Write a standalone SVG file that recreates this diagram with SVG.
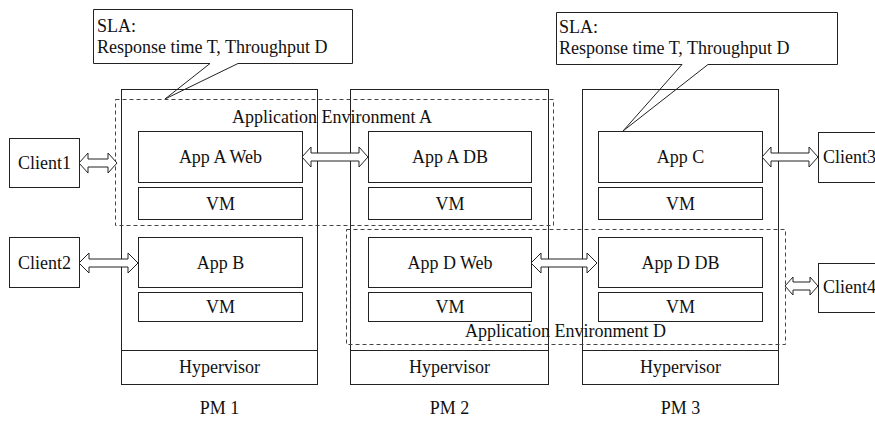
<svg xmlns="http://www.w3.org/2000/svg" width="875" height="421" viewBox="0 0 875 421">
<style>
.box{fill:#fff;stroke:#222;stroke-width:1}
.pm{fill:none;stroke:#222;stroke-width:1}
.env{fill:none;stroke:#444;stroke-width:1;stroke-dasharray:4,3}
.call{fill:#fff;stroke:#222;stroke-width:1}
.arr{fill:#fff;stroke:#222;stroke-width:1}
text{font-family:"Liberation Serif","Times New Roman",serif;font-size:18px;fill:#111}
.c{text-anchor:middle}
</style>
<rect x="0" y="0" width="875" height="421" fill="#fff"/>
<g id="sla1">
<path class="call" d="M93.5,9.5 H352.5 V63.5 H238 L165,99 L210,63.5 H93.5 Z"/>
<text x="97" y="32">SLA:</text>
<text x="97" y="53">Response time T, Throughput D</text>
</g>
<g id="sla2">
<path class="call" d="M556.5,12.5 H837.5 V64.5 H708 L623,131 L682,64.5 H556.5 Z"/>
<text x="559" y="33">SLA:</text>
<text x="559" y="54">Response time T, Throughput D</text>
</g>
<g id="pm1">
<rect class="pm" x="121.5" y="89.5" width="196" height="295"/>
<rect class="pm" x="121.5" y="350.5" width="196" height="34"/>
<text class="c" x="219.5" y="373">Hypervisor</text>
<text class="c" x="219.5" y="414">PM 1</text>
</g>
<g id="pm2">
<rect class="pm" x="350.5" y="89.5" width="198" height="295"/>
<rect class="pm" x="350.5" y="350.5" width="198" height="34"/>
<text class="c" x="449.5" y="373">Hypervisor</text>
<text class="c" x="449.5" y="414">PM 2</text>
</g>
<g id="pm3">
<rect class="pm" x="582.5" y="89.5" width="196" height="295"/>
<rect class="pm" x="582.5" y="350.5" width="196" height="34"/>
<text class="c" x="680.5" y="373">Hypervisor</text>
<text class="c" x="680.5" y="414">PM 3</text>
</g>
<g id="envA">
<rect class="env" x="115.5" y="99.5" width="438" height="126"/>
<text x="232" y="123">Application Environment A</text>
</g>
<g id="envD">
<rect class="env" x="346.5" y="229.5" width="439" height="115"/>
<text x="465" y="337">Application Environment D</text>
</g>
<g id="appAWeb"><rect class="box" x="138.5" y="131.5" width="164" height="51"/><text class="c" x="220.5" y="163">App A Web</text></g>
<g id="vmA1"><rect class="box" x="138.5" y="187.5" width="164" height="32"/><text class="c" x="220.5" y="210">VM</text></g>
<g id="appB"><rect class="box" x="138.5" y="237.5" width="164" height="50"/><text class="c" x="220.5" y="269">App B</text></g>
<g id="vmB"><rect class="box" x="138.5" y="292.5" width="164" height="29"/><text class="c" x="220.5" y="313">VM</text></g>
<g id="appADB"><rect class="box" x="368.5" y="131.5" width="163" height="51"/><text class="c" x="450" y="163">App A DB</text></g>
<g id="vmA2"><rect class="box" x="368.5" y="187.5" width="163" height="32"/><text class="c" x="450" y="210">VM</text></g>
<g id="appDWeb"><rect class="box" x="368.5" y="237.5" width="163" height="50"/><text class="c" x="450" y="269">App D Web</text></g>
<g id="vmD1"><rect class="box" x="368.5" y="292.5" width="163" height="29"/><text class="c" x="450" y="313">VM</text></g>
<g id="appC"><rect class="box" x="598.5" y="131.5" width="164" height="51"/><text class="c" x="680.5" y="163">App C</text></g>
<g id="vmC"><rect class="box" x="598.5" y="187.5" width="164" height="32"/><text class="c" x="680.5" y="210">VM</text></g>
<g id="appDDB"><rect class="box" x="598.5" y="237.5" width="164" height="50"/><text class="c" x="680.5" y="269">App D DB</text></g>
<g id="vmD2"><rect class="box" x="598.5" y="292.5" width="164" height="29"/><text class="c" x="680.5" y="313">VM</text></g>
<g id="client1"><rect class="box" x="9.5" y="138.5" width="70" height="49"/><text class="c" x="44.5" y="169">Client1</text></g>
<g id="client2"><rect class="box" x="9.5" y="237.5" width="70" height="50"/><text class="c" x="44.5" y="269">Client2</text></g>
<g id="client3"><rect class="box" x="818.5" y="132.5" width="80" height="50"/><text x="823" y="163">Client3</text></g>
<g id="client4"><rect class="box" x="818.5" y="263.5" width="80" height="49"/><text x="823" y="293">Client4</text></g>
<g id="connectors">
<path class="arr" d="M79,163 L88,153 L88,159 L108,159 L108,153 L117,163 L108,173 L108,167 L88,167 L88,173 Z"/>
<path class="arr" d="M79,263 L89,253 L89,259 L128,259 L128,253 L138,263 L128,273 L128,267 L89,267 L89,273 Z"/>
<path class="arr" d="M302,157 L311,147 L311,153 L359,153 L359,147 L368,157 L359,167 L359,161 L311,161 L311,167 Z"/>
<path class="arr" d="M531,263 L541,253 L541,259 L587,259 L587,253 L597,263 L587,273 L587,267 L541,267 L541,273 Z"/>
<path class="arr" d="M762,157 L771,147 L771,153 L809,153 L809,147 L818,157 L809,167 L809,161 L771,161 L771,167 Z"/>
<path class="arr" d="M785,286 L793,277 L793,282 L810,282 L810,277 L818,286 L810,295 L810,290 L793,290 L793,295 Z"/>
</g>
</svg>
